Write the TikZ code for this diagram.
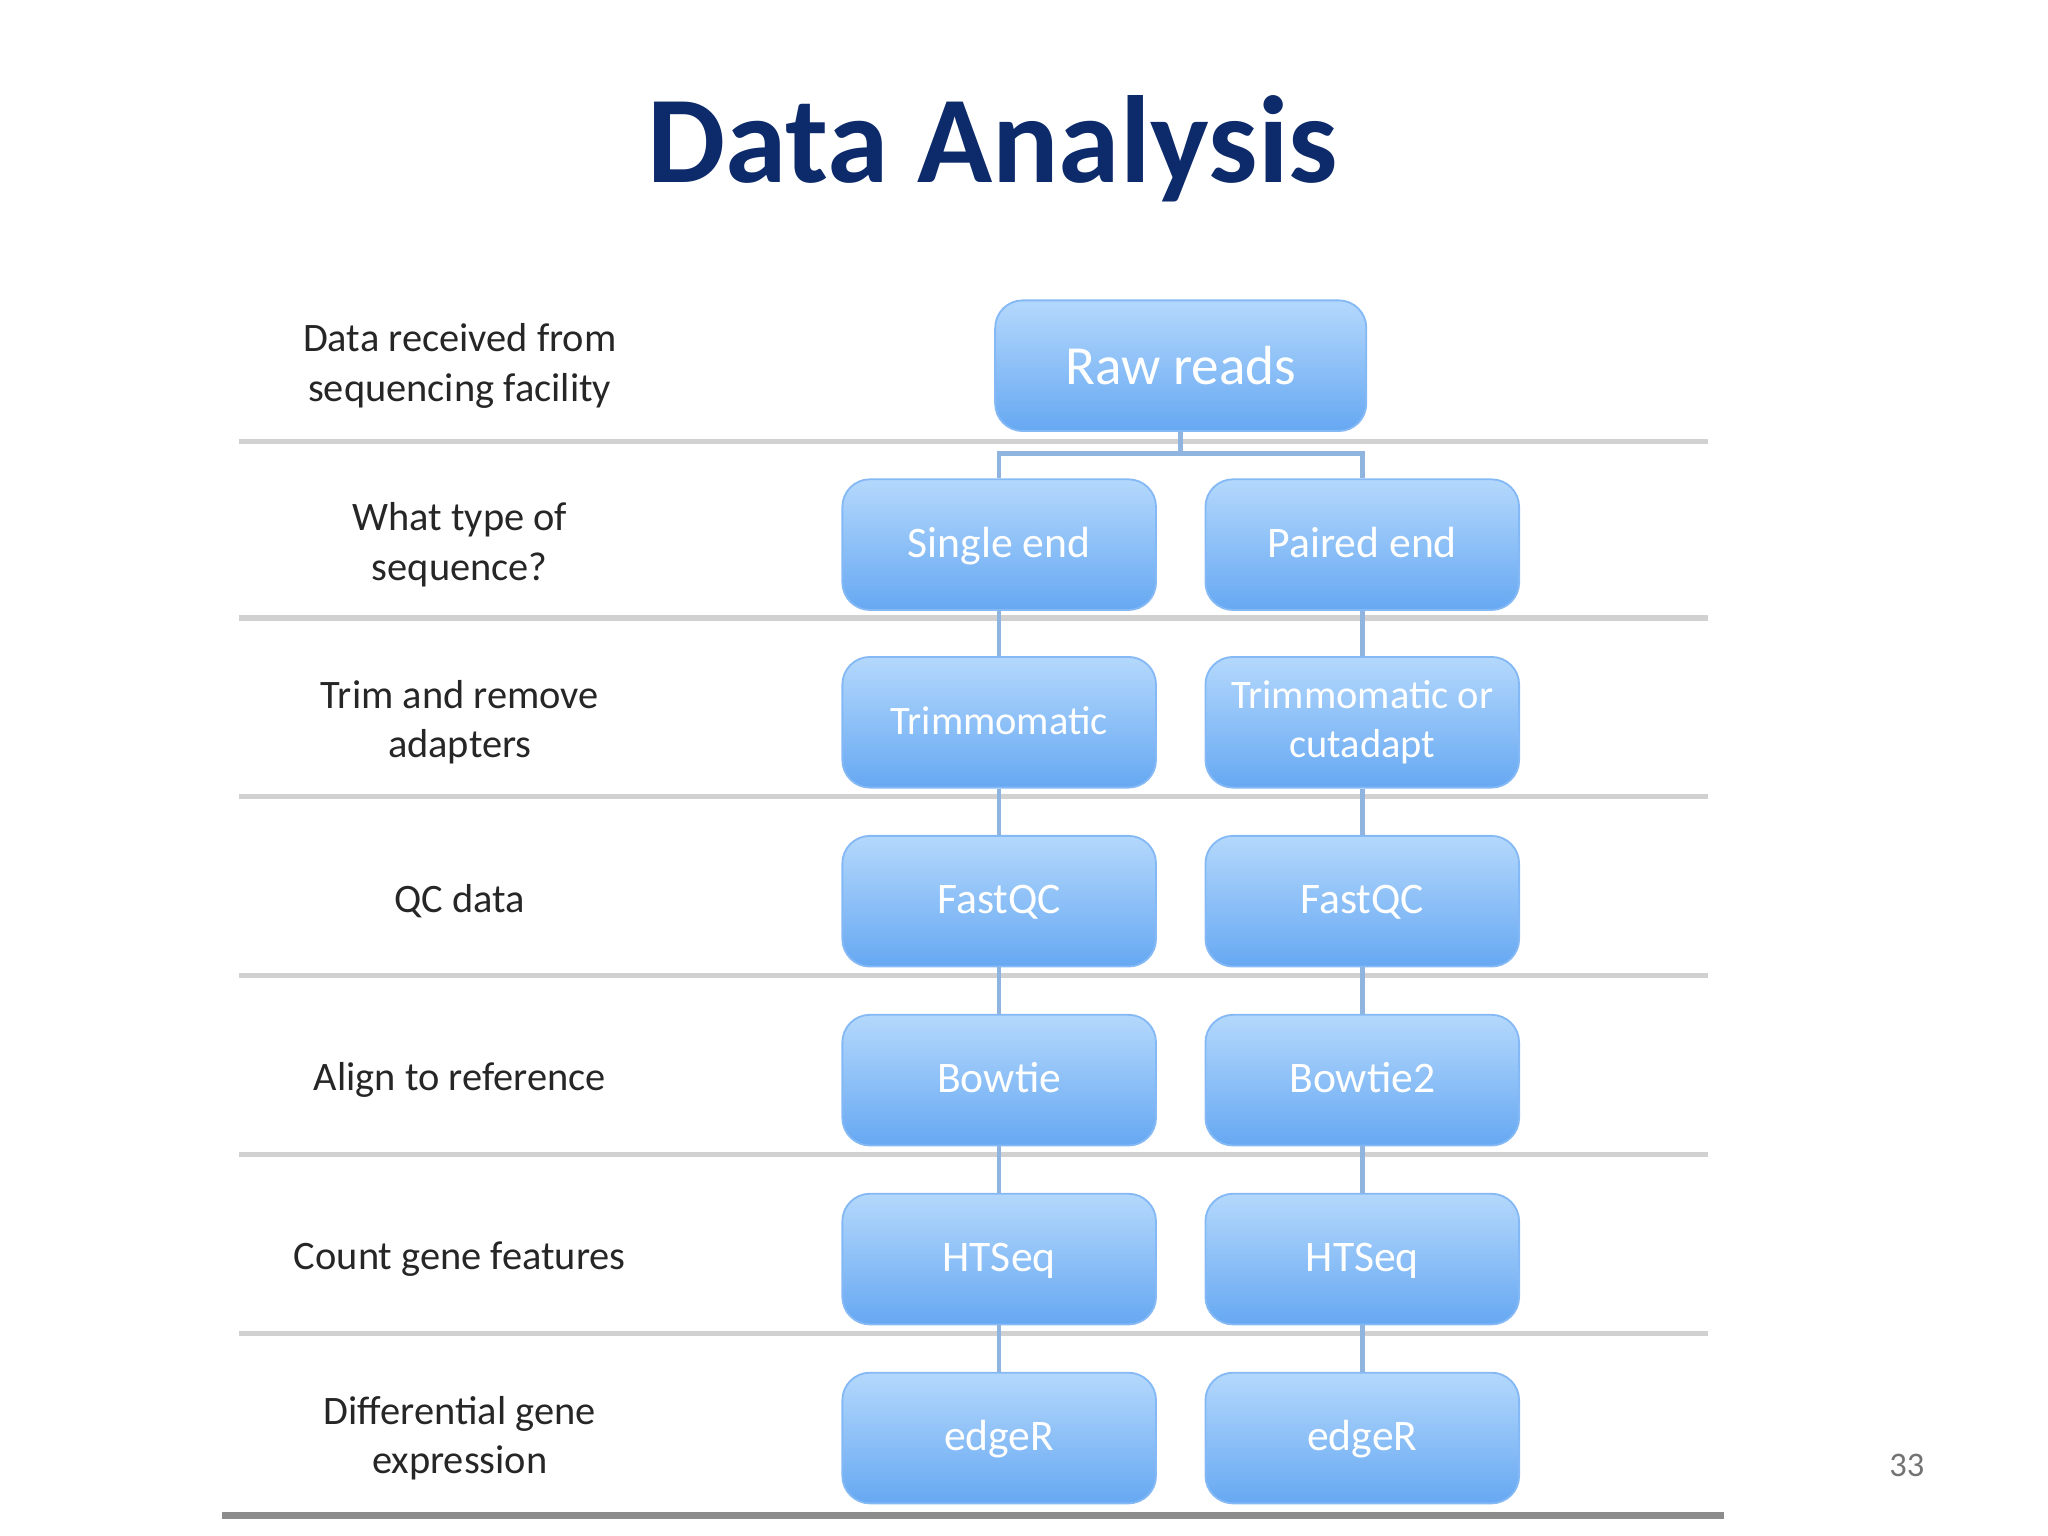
\documentclass[tikz,border=0pt]{standalone}
\usepackage{fontspec}
\setmainfont{Carlito}
\definecolor{navy}{HTML}{0D2A6B}
\definecolor{btop}{HTML}{B4D8FC}
\definecolor{bbot}{HTML}{66A8F2}
\definecolor{conn}{HTML}{8FB4E0}
\begin{document}
\begin{tikzpicture}[x=0.01cm,y=-0.01cm,
 box/.style={rounded corners=6pt,top color=btop,bottom color=bbot,draw=bbot!80!white,text=white,font=\fontsize{9.5}{10.5}\selectfont,align=center,inner sep=0pt},
 lbl/.style={text=black!85,font=\fontsize{8.8}{10.8}\selectfont,align=center},
 sep/.style={draw=black!18,line width=1.2pt},
 cn/.style={draw=conn,line width=1pt}]
\useasboundingbox (0,0) rectangle (1568,1176);
\node[text=navy,font=\bfseries\fontsize{27}{31}\selectfont] (title) at (760,114) {Data Analysis};
\foreach \y in {338,473,610,747,884,1021}{\draw[sep] (183,\y) -- (1308,\y);}
\draw[draw=black!45,line width=1.5pt] (170,1160) -- (1320,1160);
\node[box,minimum width=2.84cm,minimum height=1cm,font=\fontsize{12}{14}\selectfont] (raw) at (904,280) {Raw reads};
\def\bw{2.4cm}\def\bh{1cm}
\tikzset{bx/.style={box,minimum width=\bw,minimum height=\bh,text height=1.6ex,text depth=0.45ex}}
\node[bx] (l1) at (765,417) {Single end};
\node[bx] (r1) at (1043,417) {Paired end};
\node[bx,font=\fontsize{8.8}{10}\selectfont] (l2) at (765,553) {Trimmomatic};
\node[box,minimum width=\bw,minimum height=\bh,font=\fontsize{8.8}{10.5}\selectfont] (r2) at (1043,553) {Trimmomatic or\\cutadapt};
\node[bx] (l3) at (765,690) {FastQC};
\node[bx] (r3) at (1043,690) {FastQC};
\node[bx] (l4) at (765,827) {Bowtie};
\node[bx] (r4) at (1043,827) {Bowtie2};
\node[bx] (l5) at (765,964) {HTSeq};
\node[bx] (r5) at (1043,964) {HTSeq};
\node[bx] (l6) at (765,1101) {edgeR};
\node[bx] (r6) at (1043,1101) {edgeR};
\coordinate (j) at (904,347);
\draw[cn] (raw.south) -- (j);
\draw[cn] (l1.north) |- (j) -| (r1.north);
\foreach \a/\b in {1/2,2/3,3/4,4/5,5/6}{
 \draw[cn] (l\a.south) -- (l\b.north);
 \draw[cn] (r\a.south) -- (r\b.north);}
\node[lbl] (t0) at (352,280) {Data received from\\sequencing facility};
\node[lbl] (t1) at (352,417) {What type of\\sequence?};
\node[lbl] (t2) at (352,553) {Trim and remove\\adapters};
\node[lbl] (t3) at (352,690) {QC data};
\node[lbl] (t4) at (352,827) {Align to reference};
\node[lbl] (t5) at (352,964) {Count gene features};
\node[lbl] (t6) at (352,1101) {Differential gene\\expression};
\node[text=black!55,font=\fontsize{7.5}{9}\selectfont] (pg) at (1460,1122) {33};
\end{tikzpicture}
\end{document}
